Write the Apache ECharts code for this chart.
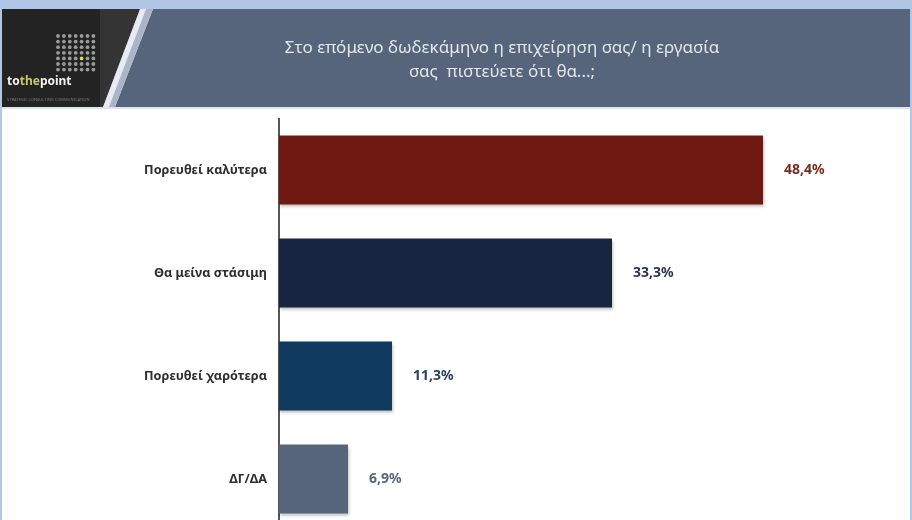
<!DOCTYPE html>
<html>
<head>
<meta charset="utf-8">
<script src="https://cdn.jsdelivr.net/npm/echarts@6/dist/echarts.min.js"></script>
<style>
html,body{margin:0;padding:0;background:#fff;}
#chart{width:912px;height:520px;}
</style>
</head>
<body>
<div id="chart"></div>
<script>
const categories = ['Πορευθεί καλύτερα', 'Θα μείνα στάσιμη', 'Πορευθεί χαρότερα', 'ΔΓ/ΔΑ'];
const values = [48.4, 33.3, 11.3, 6.9];
const valueLabels = ['48,4%', '33,3%', '11,3%', '6,9%'];
const barColors = ['#6e1a12', '#172540', '#0f3a5d', '#57657b'];
const labelColors = ['#7a2b1c', '#2b3450', '#2c4262', '#5d6779'];
const titleLines = ['Στο επόμενο δωδεκάμηνο η επιχείρηση σας/ η εργασία', 'σας  πιστεύετε ότι θα...;'];

const chart = echarts.init(document.getElementById('chart'), null, {renderer: 'canvas'});

// logo dot grid
const dots = [];
for (let r = 0; r < 7; r++) {
  for (let c = 0; c < 7; c++) {
    const yellow = (r === 4 && c === 4);
    dots.push({
      type: 'circle',
      shape: {cx: 58 + c * 5.9, cy: 36 + r * 5.6, r: 1.9},
      style: {fill: yellow ? '#d8e040' : '#9a9a9a'},
      z: 5
    });
  }
}

chart.setOption({
  animation: false,
  backgroundColor: '#ffffff',
  title: {
    text: titleLines.join('\n'),
    left: 497,
    top: 31,
    textAlign: 'center',
    textStyle: {
      color: '#e4e6ea',
      fontSize: 17,
      fontWeight: 'normal',
      fontFamily: 'Noto Sans',
      lineHeight: 24
    }
  },
  graphic: [
    // outer light-blue frame
    {type: 'rect', shape: {x: 0, y: 0, width: 912, height: 9}, style: {fill: '#b2c6e6'}, z: 1},
    {type: 'rect', shape: {x: 0, y: 0, width: 2, height: 520}, style: {fill: '#b2c6e6'}, z: 1},
    {type: 'rect', shape: {x: 910, y: 0, width: 2, height: 520}, style: {fill: '#b2c6e6'}, z: 1},
    // header band
    {type: 'rect', shape: {x: 2, y: 9, width: 908, height: 98}, style: {fill: '#56657b'}, z: 1},
    {type: 'rect', shape: {x: 2, y: 107, width: 908, height: 2}, style: {fill: '#dfe4ec'}, z: 1},
    // dark logo block
    {type: 'polygon', shape: {points: [[2, 9], [140, 9], [103, 107], [2, 107]]}, style: {fill: '#343434'}, z: 2},
    {type: 'rect', shape: {x: 2, y: 9, width: 98, height: 98}, style: {fill: '#232323'}, z: 2},
    // white diagonal stripe
    {type: 'polygon', shape: {points: [[140, 9], [153, 9], [115, 107], [103, 107]]}, style: {fill: '#e8ecf2'}, z: 3},
    {type: 'polygon', shape: {points: [[146, 9], [153, 9], [115, 107], [109, 107]]}, style: {fill: '#aab6c8'}, z: 3},
    // logo text
    {
      type: 'text', left: 7, top: 76, z: 6,
      style: {
        text: '{a|to}{b|the}{a|point}',
        rich: {
          a: {fill: '#f2f2f2', fontSize: 12, fontFamily: 'Noto Sans', fontWeight: 'bold'},
          b: {fill: '#c2c96a', fontSize: 12, fontFamily: 'Noto Sans', fontWeight: 'bold'}
        }
      }
    },
    {
      type: 'text', left: 7, top: 98, z: 6,
      style: {text: 'STRATEGIC CONSULTING COMMUNICATION', fill: '#7a7a7a', fontSize: 4, fontFamily: 'Noto Sans'}
    }
  ].concat(dots),
  grid: {left: 279, top: 118.5, width: 600, height: 412, containLabel: false, outerBoundsMode: 'none'},
  xAxis: {
    type: 'value',
    min: 0,
    max: 60,
    show: false
  },
  yAxis: {
    type: 'category',
    data: categories,
    inverse: true,
    axisLine: {show: true, lineStyle: {color: '#1e1e1e', width: 1.5}},
    axisTick: {show: false},
    axisLabel: {
      margin: 12,
      color: '#2e2e2e',
      fontSize: 12.7,
      fontWeight: 'bold',
      fontFamily: 'Noto Sans'
    },
    splitLine: {show: false}
  },
  series: [{
    type: 'bar',
    barWidth: 69,
    data: values.map((v, i) => ({
      value: v,
      itemStyle: {
        color: barColors[i],
        shadowColor: 'rgba(0,0,0,0.25)',
        shadowBlur: 3,
        shadowOffsetX: 1,
        shadowOffsetY: 2
      },
      label: {color: labelColors[i]}
    })),
    label: {
      show: true,
      position: 'right',
      distance: 21,
      fontSize: 14,
      fontWeight: 'bold',
      fontFamily: 'Noto Sans',
      formatter: p => valueLabels[p.dataIndex]
    }
  }]
});
</script>
</body>
</html>
